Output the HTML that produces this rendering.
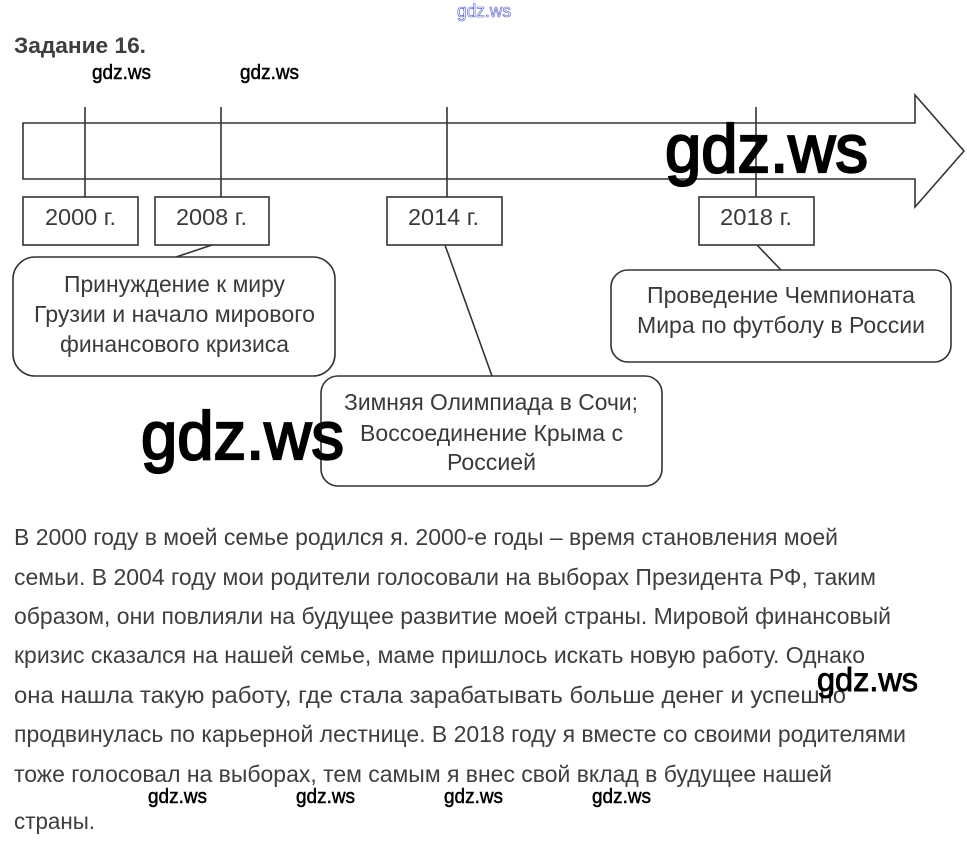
<!DOCTYPE html>
<html lang="ru"><head><meta charset="utf-8"><title>Задание 16</title>
<style>
html,body{margin:0;padding:0;background:#fff}
svg{display:block}
text{font-family:"Liberation Sans",sans-serif}
.b{fill:#3c403c;font-size:23px}
.n{fill:#3a3a3c;font-size:23px}
.w{fill:#000;stroke:#000;font-weight:400}
</style></head><body>
<svg width="967" height="851" viewBox="0 0 967 851" xmlns="http://www.w3.org/2000/svg">
<rect width="967" height="851" fill="#fff"/>
<text x="457" y="17" font-size="18" textLength="54" lengthAdjust="spacingAndGlyphs" fill="#fff" stroke="#4a55c8" stroke-width=".6">gdz.ws</text>
<text x="14" y="53" font-size="22" font-weight="700" fill="#3c3f3c" textLength="132" lengthAdjust="spacingAndGlyphs">Задание 16.</text>

<g fill="none" stroke="#333" stroke-width="1.6">
<path d="M23 123H915V95L964 151L915 207V179H23Z" fill="#fff"/>
<path d="M85 107V197M221 107V197M447 107V197M756 107V197"/>
<rect x="23" y="197" width="115" height="48"/>
<rect x="155" y="197" width="114" height="48"/>
<rect x="387" y="197" width="115" height="48"/>
<rect x="699" y="197" width="115" height="48"/>
<path d="M212 245L176 257M445 245L492 376M757 245L781 270"/>
<rect x="13" y="257" width="322" height="119" rx="22" fill="#fff"/>
<rect x="611" y="270" width="340" height="92" rx="17" fill="#fff"/>
<rect x="321" y="376" width="341" height="110" rx="17" fill="#fff"/>
</g>

<g class="n">
<text x="45" y="225" textLength="71" lengthAdjust="spacingAndGlyphs">2000 г.</text>
<text x="176" y="225" textLength="71" lengthAdjust="spacingAndGlyphs">2008 г.</text>
<text x="408" y="225" textLength="71" lengthAdjust="spacingAndGlyphs">2014 г.</text>
<text x="720" y="225" textLength="72" lengthAdjust="spacingAndGlyphs">2018 г.</text>
<text x="64" y="292" textLength="221" lengthAdjust="spacingAndGlyphs">Принуждение к миру</text>
<text x="34" y="322" textLength="281" lengthAdjust="spacingAndGlyphs">Грузии и начало мирового</text>
<text x="60" y="352" textLength="229" lengthAdjust="spacingAndGlyphs">финансового кризиса</text>
<text x="647" y="303" textLength="268" lengthAdjust="spacingAndGlyphs">Проведение Чемпионата</text>
<text x="637" y="333" textLength="288" lengthAdjust="spacingAndGlyphs">Мира по футболу в России</text>
<text x="344" y="410" textLength="294" lengthAdjust="spacingAndGlyphs">Зимняя Олимпиада в Сочи;</text>
<text x="360" y="441" textLength="263" lengthAdjust="spacingAndGlyphs">Воссоединение Крыма с</text>
<text x="447" y="470" textLength="89" lengthAdjust="spacingAndGlyphs">Россией</text>
</g>

<g class="b">
<text x="14" y="545" textLength="824" lengthAdjust="spacingAndGlyphs">В 2000 году в моей семье родился я. 2000-е годы – время становления моей</text>
<text x="14" y="585" textLength="862" lengthAdjust="spacingAndGlyphs">семьи. В 2004 году мои родители голосовали на выборах Президента РФ, таким</text>
<text x="14" y="624" textLength="877" lengthAdjust="spacingAndGlyphs">образом, они повлияли на будущее развитие моей страны. Мировой финансовый</text>
<text x="14" y="663" textLength="851" lengthAdjust="spacingAndGlyphs">кризис сказался на нашей семье, маме пришлось искать новую работу. Однако</text>
<text x="14" y="703" textLength="832" lengthAdjust="spacingAndGlyphs">она нашла такую работу, где стала зарабатывать больше денег и успешно</text>
<text x="14" y="742" textLength="892" lengthAdjust="spacingAndGlyphs">продвинулась по карьерной лестнице. В 2018 году я вместе со своими родителями</text>
<text x="14" y="782" textLength="818" lengthAdjust="spacingAndGlyphs">тоже голосовал на выборах, тем самым я внес свой вклад в будущее нашей</text>
<text x="14" y="829" textLength="81" lengthAdjust="spacingAndGlyphs">страны.</text>
</g>

<g class="w">
<text x="665" y="172" font-size="68" stroke-width="2.2" textLength="203" lengthAdjust="spacingAndGlyphs">gdz.ws</text>
<text x="141" y="459" font-size="68" stroke-width="2.2" textLength="203" lengthAdjust="spacingAndGlyphs">gdz.ws</text>
<text x="817" y="691" font-size="33" stroke-width=".9" textLength="101" lengthAdjust="spacingAndGlyphs">gdz.ws</text>
<g font-size="20" stroke-width=".5">
<text x="92" y="79" textLength="59" lengthAdjust="spacingAndGlyphs">gdz.ws</text>
<text x="240" y="79" textLength="59" lengthAdjust="spacingAndGlyphs">gdz.ws</text>
<text x="148" y="803" textLength="59" lengthAdjust="spacingAndGlyphs">gdz.ws</text>
<text x="296" y="803" textLength="59" lengthAdjust="spacingAndGlyphs">gdz.ws</text>
<text x="444" y="803" textLength="59" lengthAdjust="spacingAndGlyphs">gdz.ws</text>
<text x="592" y="803" textLength="59" lengthAdjust="spacingAndGlyphs">gdz.ws</text>
</g>
</g>
</svg>
</body></html>
